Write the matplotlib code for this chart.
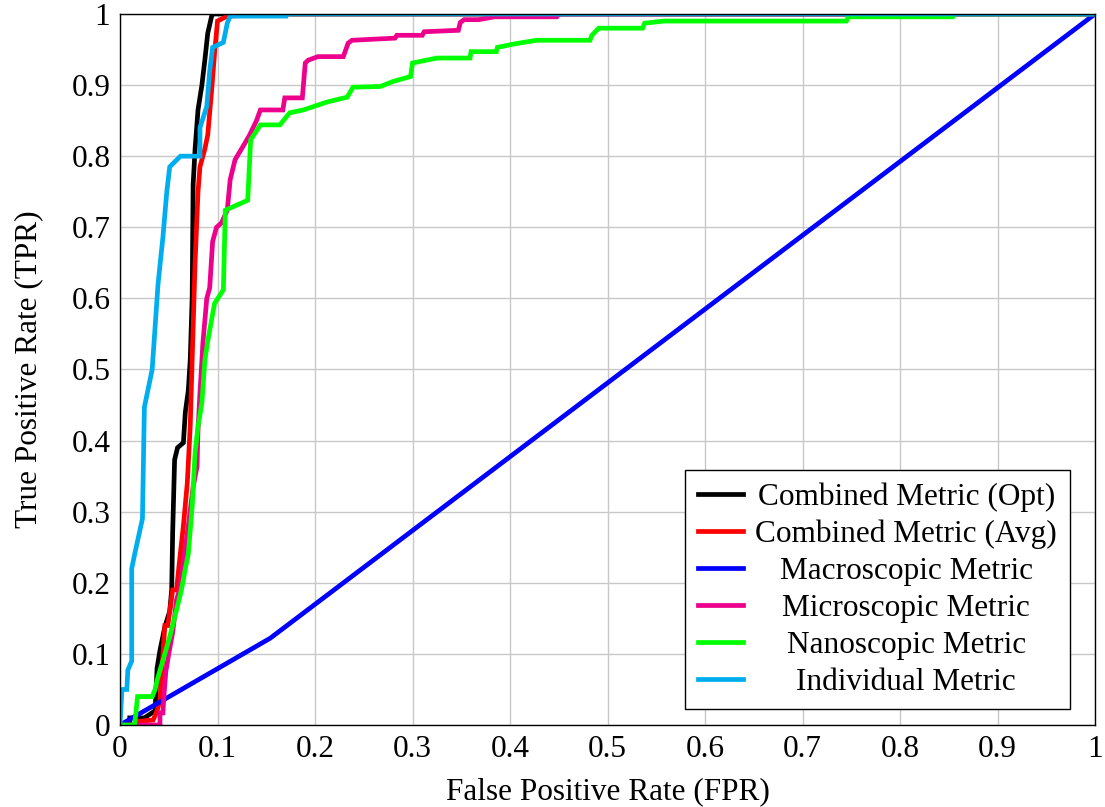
import matplotlib
matplotlib.use("Agg")
import matplotlib.pyplot as plt

plt.rcParams['font.family'] = ['Liberation Serif', 'DejaVu Serif']

# ROC curves (fpr, tpr vertices)
opt_fpr = [0, 0.01, 0.01, 0.025, 0.036, 0.038, 0.041, 0.046, 0.051, 0.053, 0.054, 0.056, 0.059,
           0.065, 0.067, 0.07, 0.072, 0.074, 0.075, 0.077, 0.08, 0.084, 0.087, 0.09, 0.094, 0.095, 1]
opt_tpr = [0, 0, 0.01, 0.01, 0.02, 0.08, 0.105, 0.138, 0.16, 0.19, 0.27, 0.373, 0.39,
           0.397, 0.44, 0.47, 0.513, 0.6, 0.76, 0.81, 0.865, 0.9, 0.935, 0.973, 0.997, 1, 1]

avg_fpr = [0, 0.018, 0.018, 0.034, 0.038, 0.041, 0.046, 0.049, 0.054, 0.058, 0.061, 0.065, 0.069,
           0.072, 0.074, 0.077, 0.08, 0.082, 0.087, 0.09, 0.094, 0.097, 0.1, 0.11, 0.164, 1]
avg_tpr = [0, 0, 0.005, 0.007, 0.02, 0.035, 0.14, 0.14, 0.19, 0.19, 0.23, 0.28, 0.34,
           0.42, 0.513, 0.65, 0.75, 0.785, 0.81, 0.83, 0.893, 0.945, 0.99, 0.997, 1, 1]

macro_fpr = [0, 0.154, 1]
macro_tpr = [0, 0.122, 1]

micro_fpr = [0, 0.041, 0.041, 0.044, 0.045, 0.047, 0.05, 0.054, 0.058, 0.061, 0.07, 0.075, 0.079,
             0.08, 0.082, 0.084, 0.085, 0.089, 0.092, 0.095, 0.099, 0.104, 0.11, 0.113, 0.118, 0.128,
             0.133, 0.14, 0.144, 0.167, 0.169, 0.187, 0.19, 0.193, 0.203, 0.229, 0.234, 0.238, 0.282,
             0.284, 0.31, 0.312, 0.347, 0.349, 0.353, 0.368, 0.384, 0.448, 0.45, 1]
micro_tpr = [0, 0, 0.017, 0.017, 0.04, 0.075, 0.1, 0.13, 0.176, 0.19, 0.28, 0.335, 0.363,
             0.415, 0.467, 0.513, 0.537, 0.6, 0.615, 0.68, 0.7, 0.706, 0.724, 0.767, 0.795, 0.818,
             0.83, 0.85, 0.865, 0.865, 0.882, 0.882, 0.931, 0.935, 0.94, 0.94, 0.959, 0.963, 0.966,
             0.97, 0.97, 0.975, 0.977, 0.988, 0.992, 0.992, 0.996, 0.996, 1, 1]

nano_fpr = [0, 0.015, 0.018, 0.033, 0.036, 0.038, 0.046, 0.051, 0.058, 0.063, 0.067, 0.07, 0.074,
            0.077, 0.08, 0.084, 0.087, 0.09, 0.097, 0.106, 0.108, 0.131, 0.134, 0.144, 0.164, 0.174,
            0.188, 0.212, 0.233, 0.239, 0.267, 0.28, 0.298, 0.3, 0.325, 0.359, 0.36, 0.386, 0.387,
            0.405, 0.427, 0.482, 0.484, 0.491, 0.536, 0.538, 0.558, 0.745, 0.747, 0.854, 0.855, 1]
nano_tpr = [0, 0, 0.04, 0.04, 0.05, 0.063, 0.1, 0.124, 0.162, 0.19, 0.22, 0.24, 0.307,
            0.383, 0.42, 0.453, 0.513, 0.54, 0.593, 0.612, 0.724, 0.738, 0.823, 0.844, 0.844, 0.861,
            0.865, 0.876, 0.883, 0.897, 0.898, 0.905, 0.912, 0.931, 0.938, 0.938, 0.947, 0.947, 0.953,
            0.958, 0.963, 0.963, 0.97, 0.98, 0.98, 0.987, 0.99, 0.99, 0.996, 0.996, 1, 1]

indiv_fpr = [0, 0.002, 0.007, 0.008, 0.012, 0.012, 0.015, 0.023, 0.025, 0.033, 0.039, 0.044, 0.048,
             0.051, 0.062, 0.082, 0.082, 0.089, 0.092, 0.095, 0.106, 0.11, 0.113, 0.17, 0.17, 1]
indiv_tpr = [0, 0.05, 0.05, 0.077, 0.09, 0.22, 0.24, 0.29, 0.447, 0.5, 0.62, 0.686, 0.75,
             0.785, 0.8, 0.8, 0.84, 0.87, 0.92, 0.953, 0.96, 0.987, 0.997, 0.997, 1, 1]

labels = ['Combined Metric (Opt)', 'Combined Metric (Avg)', 'Macroscopic Metric',
          'Microscopic Metric', 'Nanoscopic Metric', 'Individual Metric']
colors = ['black', '#ff0000', '#0000ff', '#ec008c', '#00ff00', '#00aeef']
series = [(opt_fpr, opt_tpr), (avg_fpr, avg_tpr), (macro_fpr, macro_tpr),
          (micro_fpr, micro_tpr), (nano_fpr, nano_tpr), (indiv_fpr, indiv_tpr)]

FS = 22.5

fig = plt.figure(figsize=(11.05, 8.07), dpi=100)
ax = fig.add_axes([0.1086, 0.1016, 0.8824, 0.8811])

for (x, y), c, lab in zip(series, colors, labels):
    ax.plot(x, y, color=c, lw=3.4, label=lab, solid_joinstyle='miter')

ax.set_xlim(0, 1)
ax.set_ylim(0, 1)
ticks = [i / 10 for i in range(11)]
ticklabels = ['0'] + ['%.1f' % t for t in ticks[1:-1]] + ['1']
ax.set_xticks(ticks)
ax.set_xticklabels(ticklabels)
ax.set_yticks(ticks)
ax.set_yticklabels(ticklabels)
ax.tick_params(length=0, labelsize=FS, pad=7)
ax.grid(True, color='#c8c8c8', lw=1)
ax.set_axisbelow(True)
for s in ax.spines.values():
    s.set_linewidth(1)
ax.set_xlabel('False Positive Rate (FPR)', fontsize=FS, labelpad=10)
ax.set_ylabel('True Positive Rate (TPR)', fontsize=FS, labelpad=20)

leg = ax.legend(loc='lower right', bbox_to_anchor=(0.974, 0.0225), borderaxespad=0,
                fontsize=FS, fancybox=False, framealpha=1, edgecolor='black',
                handlelength=1.45, labelspacing=0.25, borderpad=0.4, handletextpad=0.4)
leg.get_frame().set_linewidth(1)

# center the legend texts like pgfplots does
renderer = fig.canvas.get_renderer()
widths = [t.get_window_extent(renderer).width for t in leg.get_texts()]
maxw = max(widths)
for t, w in zip(leg.get_texts(), widths):
    t.set_position(((maxw - w) / 2, 0))

fig.savefig('out.png', dpi=100)
